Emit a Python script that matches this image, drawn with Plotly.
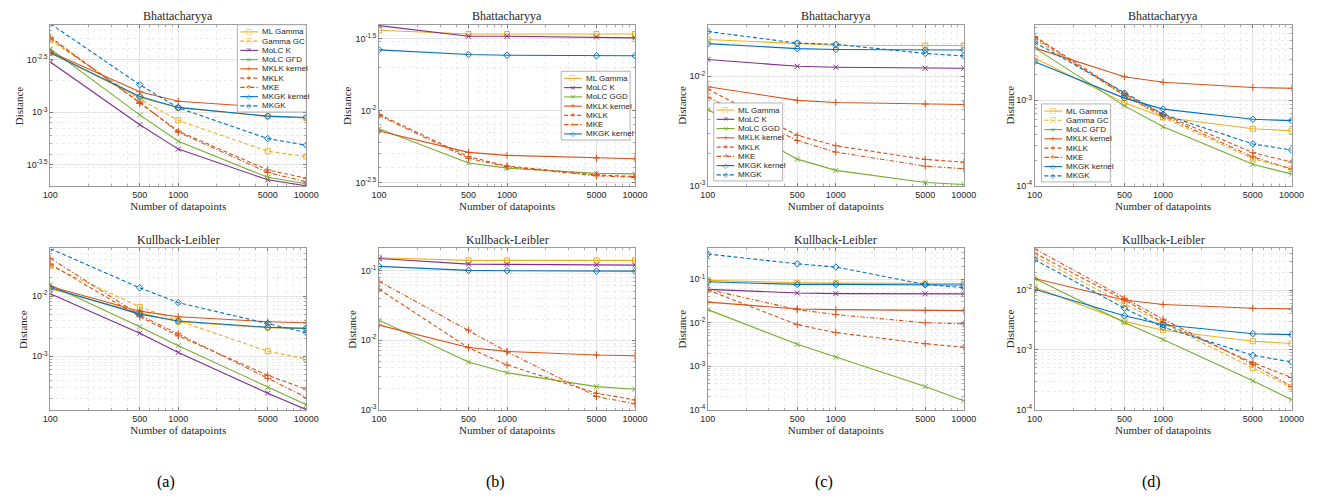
import plotly.graph_objects as go

W, H = 1338, 499

# ---------------- data ----------------
x_points = [100, 500, 1000, 5000, 10000]
x_tick_labels = ["100", "500", "1000", "5000", "10000"]
x_minor = [200, 300, 400, 600, 700, 800, 900, 2000, 3000, 4000, 6000, 7000, 8000, 9000]

row_titles = ["Bhattacharyya", "Kullback-Leibler"]
sub_labels = ["(a)", "(b)", "(c)", "(d)"]

bhat_a = {
    "ML Gamma":    [3.63e-3, 1.38e-3, 1.10e-3, 9.12e-4, 8.81e-4],
    "Gamma GC":    [4.79e-3, 1.33e-3, 8.36e-4, 4.27e-4, 3.80e-4],
    "MoLC K":      [2.99e-3, 7.60e-4, 4.47e-4, 2.29e-4, 2.01e-4],
    "MoLC GΓD":    [3.98e-3, 9.44e-4, 5.31e-4, 2.42e-4, 2.10e-4],
    "MKLK kernel": [3.72e-3, 1.56e-3, 1.27e-3, 1.11e-3, 1.05e-3],
    "MKLK":        [5.13e-3, 1.21e-3, 6.61e-4, 2.84e-4, 2.37e-4],
    "MKE":         [5.01e-3, 1.24e-3, 6.46e-4, 2.69e-4, 2.19e-4],
    "MKGK kernel": [3.65e-3, 1.41e-3, 1.11e-3, 9.17e-4, 8.91e-4],
    "MKGK":        [6.88e-3, 1.82e-3, 1.10e-3, 5.62e-4, 4.87e-4],
}
bhat_b = {
    "ML Gamma":    [3.61e-2, 3.40e-2, 3.40e-2, 3.40e-2, 3.40e-2],
    "MoLC K":      [3.89e-2, 3.28e-2, 3.28e-2, 3.24e-2, 3.20e-2],
    "MoLC GGD":    [7.48e-3, 4.32e-3, 3.98e-3, 3.66e-3, 3.63e-3],
    "MKLK kernel": [7.21e-3, 5.12e-3, 4.88e-3, 4.68e-3, 4.62e-3],
    "MKLK":        [9.40e-3, 4.78e-3, 4.12e-3, 3.57e-3, 3.48e-3],
    "MKE":         [9.25e-3, 4.65e-3, 4.07e-3, 3.52e-3, 3.44e-3],
    "MKGK kernel": [2.64e-2, 2.45e-2, 2.42e-2, 2.40e-2, 2.40e-2],
}
bhat_c = {
    "ML Gamma":    [2.16e-2, 1.98e-2, 1.91e-2, 1.90e-2, 1.90e-2],
    "MoLC K":      [1.42e-2, 1.23e-2, 1.205e-2, 1.18e-2, 1.18e-2],
    "MoLC GGD":    [4.97e-3, 1.76e-3, 1.39e-3, 1.08e-3, 1.035e-3],
    "MKLK kernel": [8.02e-3, 6.03e-3, 5.77e-3, 5.57e-3, 5.53e-3],
    "MKLK":        [7.60e-3, 2.90e-3, 2.33e-3, 1.75e-3, 1.65e-3],
    "MKE":         [6.44e-3, 2.60e-3, 2.04e-3, 1.52e-3, 1.44e-3],
    "MKGK kernel": [1.98e-2, 1.78e-2, 1.75e-2, 1.73e-2, 1.73e-2],
    "MKGK":        [2.55e-2, 2.00e-2, 1.95e-2, 1.61e-2, 1.53e-2],
}
bhat_d = {
    "ML Gamma":    [3.10e-3, 9.33e-4, 6.34e-4, 4.66e-4, 4.42e-4],
    "Gamma GC":    [5.18e-3, 1.14e-3, 6.31e-4, 2.09e-4, 1.58e-4],
    "MoLC GΓD":    [4.08e-3, 8.61e-4, 4.91e-4, 1.80e-4, 1.38e-4],
    "MKLK kernel": [4.08e-3, 1.88e-3, 1.62e-3, 1.41e-3, 1.38e-3],
    "MKLK":        [5.55e-3, 1.19e-3, 6.86e-4, 2.45e-4, 1.91e-4],
    "MKE":         [5.41e-3, 1.14e-3, 6.61e-4, 2.19e-4, 1.58e-4],
    "MKGK kernel": [2.82e-3, 1.06e-3, 7.89e-4, 6.01e-4, 5.79e-4],
    "MKGK":        [4.74e-3, 1.21e-3, 6.86e-4, 3.10e-4, 2.63e-4],
}
kl_a = {
    "ML Gamma":    [1.32e-2, 5.26e-3, 3.75e-3, 2.99e-3, 2.88e-3],
    "Gamma GC":    [3.18e-2, 6.61e-3, 3.90e-3, 1.21e-3, 9.04e-4],
    "MoLC K":      [1.09e-2, 2.42e-3, 1.16e-3, 2.44e-4, 1.30e-4],
    "MoLC GΓD":    [1.53e-2, 3.10e-3, 1.50e-3, 3.03e-4, 1.57e-4],
    "MKLK kernel": [1.44e-2, 5.61e-3, 4.53e-3, 3.75e-3, 3.60e-3],
    "MKLK":        [3.39e-2, 4.53e-3, 2.18e-3, 4.82e-4, 2.84e-4],
    "MKE":         [4.25e-2, 4.82e-3, 2.36e-3, 4.25e-4, 2.07e-4],
    "MKGK kernel": [1.37e-2, 5.01e-3, 3.85e-3, 3.03e-3, 2.91e-3],
    "MKGK":        [6.12e-2, 1.37e-2, 7.78e-3, 3.52e-3, 2.47e-3],
}
kl_b = {
    "ML Gamma":    [0.152, 0.139, 0.139, 0.139, 0.139],
    "MoLC K":      [0.148, 0.123, 0.122, 0.1205, 0.119],
    "MoLC GGD":    [1.93e-2, 4.85e-3, 3.41e-3, 2.15e-3, 1.97e-3],
    "MKLK kernel": [1.64e-2, 7.85e-3, 6.89e-3, 6.11e-3, 5.97e-3],
    "MKLK":        [5.36e-2, 7.76e-3, 4.40e-3, 1.73e-3, 1.39e-3],
    "MKE":         [6.97e-2, 1.39e-2, 6.81e-3, 1.55e-3, 1.22e-3],
    "MKGK kernel": [0.114, 0.100, 0.0989, 0.0977, 0.0977],
}
kl_c = {
    "ML Gamma":    [0.0948, 0.0826, 0.0813, 0.0798, 0.0798],
    "MoLC K":      [0.0585, 0.0483, 0.0467, 0.0459, 0.0459],
    "MoLC GGD":    [2.00e-2, 3.19e-3, 1.63e-3, 3.42e-4, 1.62e-4],
    "MKLK kernel": [2.98e-2, 2.07e-2, 2.00e-2, 1.90e-2, 1.90e-2],
    "MKLK":        [5.65e-2, 9.02e-3, 5.94e-3, 3.30e-3, 2.73e-3],
    "MKE":         [5.85e-2, 2.00e-2, 1.54e-2, 1.00e-2, 9.48e-3],
    "MKGK kernel": [0.0871, 0.0759, 0.0759, 0.0745, 0.0733],
    "MKGK":        [0.379, 0.225, 0.190, 0.0759, 0.0638],
}
kl_d = {
    "ML Gamma":    [1.11e-2, 3.00e-3, 2.13e-3, 1.40e-3, 1.28e-3],
    "Gamma GC":    [3.65e-2, 5.87e-3, 2.81e-3, 4.94e-4, 2.37e-4],
    "MoLC GΓD":    [1.56e-2, 2.88e-3, 1.49e-3, 3.05e-4, 1.48e-4],
    "MKLK kernel": [1.56e-2, 6.84e-3, 5.73e-3, 4.98e-3, 4.85e-3],
    "MKLK":        [4.14e-2, 6.84e-3, 2.88e-3, 6.14e-4, 3.47e-4],
    "MKE":         [4.89e-2, 7.28e-3, 3.27e-3, 5.75e-4, 2.46e-4],
    "MKGK kernel": [1.03e-2, 3.72e-3, 2.64e-3, 1.87e-3, 1.80e-3],
    "MKGK":        [3.21e-2, 4.98e-3, 2.40e-3, 8.13e-4, 6.31e-4],
}

# y tick exponents (labels 10^e)
yticks_bhat = [[-3.5, -3, -2.5], [-2.5, -2, -1.5], [-3, -2], [-4, -3]]
yticks_kl = [[-3, -2], [-3, -2, -1], [-4, -3, -2, -1], [-4, -3, -2]]

# ---------------- styles / layout ----------------
YEL, PUR, GRN, ORG, BLU = "#EDB120", "#7E2F8E", "#77AC30", "#D95319", "#0072BD"
DASH = "4px,2.5px"
DASHDOT = "4.5px,2px,1.2px,2px"
style = {
    "ML Gamma":    (YEL, "solid", "square-open", "□"),
    "Gamma GC":    (YEL, DASH, "square-open", "□"),
    "MoLC K":      (PUR, "solid", "x-thin-open", "×"),
    "MoLC GΓD":    (GRN, "solid", "x-thin-open", "×"),
    "MoLC GGD":    (GRN, "solid", "x-thin-open", "×"),
    "MKLK kernel": (ORG, "solid", "cross-thin-open", "+"),
    "MKLK":        (ORG, DASH, "cross-thin-open", "+"),
    "MKE":         (ORG, DASHDOT, "cross-thin-open", "+"),
    "MKGK kernel": (BLU, "solid", "diamond-open", "◇"),
    "MKGK":        (BLU, DASH, "diamond-open", "◇"),
}

col_x = [(43, 303), (377, 637), (711, 971), (1043, 1304)]
row_y = [(25, 188), (251, 414)]
ytitle_x = [[12, 345, 685, 1018], [15, 350, 685, 1018]]
yranges = [
    [[-3.70, -2.172], [-2.525, -1.404], [-3.0, -1.532], [-4.0, -2.12]],
    [[-3.89, -1.21], [-3.0, -0.686], [-4.0, -0.295], [-4.0, -1.306]],
]
panels = [[bhat_a, bhat_b, bhat_c, bhat_d], [kl_a, kl_b, kl_c, kl_d]]
yticks = [yticks_bhat, yticks_kl]

minor_y = [m * 10.0 ** k for k in range(-6, 1) for m in range(2, 10)]

TXT = "#262626"
SANS = "Liberation Sans, Arial, sans-serif"
SERIF = "Liberation Serif, Times New Roman, serif"

fig = go.Figure()
annotations = []
shapes = []

def px(x):
    return x / W

def py(y):
    return 1 - y / H

n = 0
for r in range(2):
    for c in range(4):
        n += 1
        data = panels[r][c]
        xs = "x" if n == 1 else f"x{n}"
        ys = "y" if n == 1 else f"y{n}"
        for name, vals in data.items():
            color, dash, sym, _ = style[name]
            fig.add_trace(go.Scatter(
                x=x_points, y=vals, mode="lines+markers", name=name,
                xaxis=xs, yaxis=ys, showlegend=False,
                line=dict(color=color, width=1.1, dash=dash),
                marker=dict(symbol=sym, size=5, color=color,
                            line=dict(color=color, width=1)),
            ))
        l, rgt = col_x[c]
        t, b = row_y[r]
        ax_common = dict(
            showline=True, linecolor="#9a9a9a", linewidth=0.8, mirror="ticks",
            ticks="inside", ticklen=3, tickcolor="#7a7a7a", tickwidth=0.6,
            showgrid=True, gridcolor="#e4e4e4", gridwidth=0.7, zeroline=False,
            tickfont=dict(family=SANS, size=9, color=TXT),
        )
        minor_style = dict(tickmode="array", ticks="inside", ticklen=2,
                           tickcolor="#a8a8a8", showgrid=True, gridcolor="#ececec",
                           griddash="dot", gridwidth=0.6)
        xa = dict(ax_common, type="log", range=[2, 4], domain=[px(l), px(rgt)],
                  anchor=ys, tickmode="array", tickvals=x_points, ticktext=x_tick_labels,
                  minor=dict(minor_style, tickvals=x_minor),
                  title=dict(text="Number of datapoints",
                             font=dict(family=SERIF, size=11, color=TXT), standoff=2))
        exps = yticks[r][c]
        ya = dict(ax_common, type="log", range=yranges[r][c],
                  domain=[py(b), py(t)], anchor=xs, tickmode="array",
                  tickvals=[10.0 ** e for e in exps],
                  ticktext=[f"10<sup>{('%g' % e)}</sup>" for e in exps],
                  minor=dict(minor_style, tickvals=minor_y))
        fig.layout["xaxis" if n == 1 else f"xaxis{n}"] = xa
        fig.layout["yaxis" if n == 1 else f"yaxis{n}"] = ya
        annotations.append(dict(
            text=row_titles[r], x=px((l + rgt) / 2), y=py(t - 9), xref="paper", yref="paper",
            xanchor="center", yanchor="middle", showarrow=False,
            font=dict(family=SERIF, size=12, color=TXT)))
        annotations.append(dict(
            text="Distance", x=px(ytitle_x[r][c]), y=py((t + b) / 2), xref="paper", yref="paper",
            xanchor="center", yanchor="middle", showarrow=False, textangle=-90,
            font=dict(family=SERIF, size=11, color=TXT)))

# subfigure labels
for c in range(4):
    l, rgt = col_x[c]
    annotations.append(dict(
        text=sub_labels[c], x=px((l + rgt) / 2 - 12), y=py(487), xref="paper", yref="paper",
        xanchor="center", yanchor="middle", showarrow=False,
        font=dict(family=SERIF, size=16, color="black")))

# legends (top row), drawn as boxed entries
legend_pos = [(233, 25), (562, 72), (717, 104), (1050, 105)]
ROW = 9.35
for c in range(4):
    L, T = legend_pos[c]
    names = list(panels[0][c].keys())
    hgt = ROW * len(names) + 4
    shapes.append(dict(type="rect", xref="paper", yref="paper",
                       x0=px(L), x1=px(L + 70), y0=py(T), y1=py(T + hgt),
                       fillcolor="white", line=dict(color="#a0a0a0", width=0.8), layer="above"))
    for i, name in enumerate(names):
        color, dash, sym, glyph = style[name]
        yc = T + 2 + ROW * (i + 0.5) + 0.5
        shapes.append(dict(type="line", xref="paper", yref="paper",
                           x0=px(L + 3), x1=px(L + 21), y0=py(yc), y1=py(yc),
                           line=dict(color=color, width=1.1, dash=dash), layer="above"))
        annotations.append(dict(text=glyph, x=px(L + 12), y=py(yc), xref="paper", yref="paper",
                                xanchor="center", yanchor="middle", showarrow=False,
                                font=dict(family="DejaVu Sans", size=7, color=color)))
        annotations.append(dict(text=name, x=px(L + 23), y=py(yc), xref="paper", yref="paper",
                                xanchor="left", yanchor="middle", showarrow=False,
                                font=dict(family=SANS, size=8, color=TXT)))

fig.update_layout(
    width=W, height=H, margin=dict(l=0, r=0, t=0, b=0),
    paper_bgcolor="white", plot_bgcolor="white", showlegend=False,
    annotations=annotations, shapes=shapes,
)
fig.write_html("out.html")
